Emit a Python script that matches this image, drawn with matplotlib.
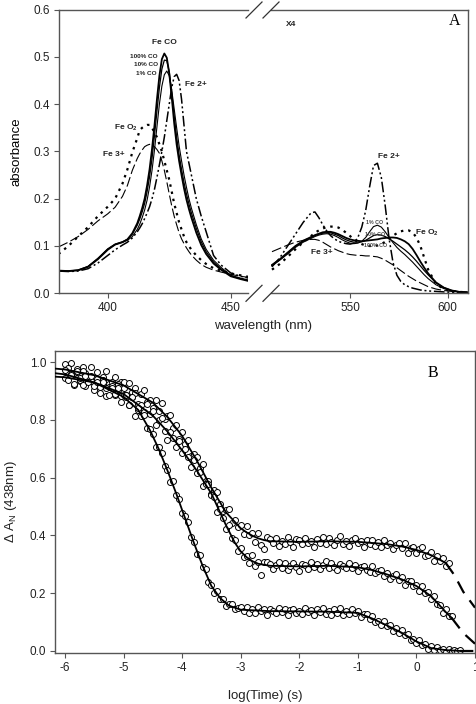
import numpy as np
import matplotlib
matplotlib.use("Agg")
import matplotlib.pyplot as plt
from matplotlib.lines import Line2D

plt.rcParams['font.family'] = ['Liberation Sans', 'DejaVu Sans']
plt.rcParams['axes.unicode_minus'] = False
plt.rcParams['mathtext.fontset'] = 'custom'
plt.rcParams['mathtext.rm'] = 'Liberation Sans'
plt.rcParams['mathtext.it'] = 'Liberation Sans:italic'
plt.rcParams['mathtext.bf'] = 'Liberation Sans:bold'

# ---------------- Panel A data: Soret region ----------------
WL_L = [380, 384, 388, 392, 396, 400, 403, 406, 408, 410, 412, 413, 414, 415, 416, 417, 418, 419,
        420, 421, 422, 423, 424, 425, 426, 427, 428, 429, 430, 431, 432, 433, 434, 436, 438, 440,
        443, 446, 450, 454, 458, 461]
CO100_L = [.048, .047, .049, .056, .072, .092, .103, .108, .114, .127, .148, .163, .180, .200, .228, .262, .305, .355,
           .410, .460, .495, .507, .498, .465, .415, .360, .315, .280, .250, .222, .198, .178, .160, .128, .102, .083,
           .063, .050, .036, .030, .025, .022]
CO10_L = [.048, .047, .049, .057, .074, .094, .104, .109, .114, .125, .144, .157, .172, .190, .215, .246, .285, .333,
          .385, .435, .474, .493, .492, .468, .425, .375, .330, .293, .262, .234, .210, .189, .170, .137, .109, .088,
          .066, .052, .037, .031, .026, .023]
CO1_L = [.048, .047, .048, .056, .073, .093, .103, .108, .112, .120, .135, .146, .160, .176, .197, .225, .260, .303,
         .352, .400, .438, .462, .470, .460, .430, .390, .350, .312, .280, .250, .224, .200, .180, .145, .115, .093,
         .070, .055, .038, .032, .027, .024]
FE2_L = [.047, .046, .047, .052, .064, .080, .092, .102, .108, .117, .130, .138, .147, .158, .170, .183, .200, .220,
         .245, .272, .300, .330, .365, .400, .435, .458, .463, .450, .410, .355, .300, .275, .250, .200, .163, .130,
         .080, .060, .043, .036, .031, .028]
FEO2_L = [.083, .100, .120, .140, .163, .183, .200, .232, .262, .298, .328, .345, .350, .354, .356, .356, .350, .340,
          .330, .315, .300, .280, .260, .240, .215, .190, .170, .150, .135, .120, .108, .100, .092, .080, .070, .062,
          .053, .048, .042, .038, .034, .032]
FE3_L = [.098, .108, .120, .135, .153, .168, .182, .205, .228, .260, .285, .295, .303, .310, .313, .315, .313, .310,
         .304, .296, .280, .260, .236, .210, .185, .163, .145, .128, .115, .105, .096, .088, .081, .070, .061, .055,
         .049, .045, .040, .036, .033, .031]

# ---------------- Panel A data: visible region (x4) ----------------
WL_R = [510, 514, 518, 522, 526, 530, 532, 534, 536, 538, 540, 542, 544, 546, 548, 550, 552, 554, 556, 558,
        560, 562, 564, 566, 568, 570, 572, 574, 576, 578, 580, 582, 584, 586, 588, 590, 594, 598, 602, 606, 610]
CO100_R = [.060, .072, .086, .100, .111, .119, .123, .126, .129, .130, .130, .128, .125, .121, .117, .114, .112, .111, .110, .111,
           .112, .113, .114, .116, .117, .118, .118, .117, .114, .110, .104, .094, .081, .067, .054, .042, .023, .012, .006, .003, .002]
CO10_R = [.059, .071, .085, .099, .110, .118, .122, .125, .127, .128, .128, .125, .122, .117, .113, .110, .108, .108, .109, .112,
          .117, .122, .124, .123, .120, .115, .110, .104, .098, .092, .085, .077, .068, .058, .048, .039, .022, .012, .006, .003, .002]
CO1_R = [.058, .070, .083, .097, .108, .116, .120, .123, .125, .126, .125, .122, .118, .113, .109, .106, .105, .106, .110, .118,
         .130, .141, .144, .140, .130, .118, .107, .097, .089, .082, .074, .066, .057, .048, .039, .031, .018, .010, .005, .003, .002]
FE2_R = [.056, .075, .100, .125, .150, .170, .172, .160, .145, .132, .122, .115, .110, .107, .105, .104, .106, .118, .140, .175,
         .225, .270, .275, .245, .185, .115, .065, .038, .025, .018, .014, .011, .009, .007, .006, .005, .004, .003, .002, .002, .002]
FEO2_R = [.050, .062, .077, .093, .108, .121, .128, .133, .137, .140, .141, .141, .139, .134, .128, .121, .114, .108, .104, .101,
          .100, .100, .101, .104, .109, .116, .122, .127, .131, .133, .133, .129, .118, .100, .075, .050, .020, .009, .005, .003, .002]
FE3_R = [.088, .095, .102, .108, .112, .114, .114, .112, .108, .103, .098, .094, .090, .087, .084, .082, .081, .080, .080, .079,
         .079, .078, .077, .074, .070, .065, .060, .054, .048, .042, .036, .031, .026, .022, .018, .014, .009, .006, .004, .003, .002]

# ---------------- Panel B data ----------------
T_STEP = 0.05
SLOW_Y = [.995, .958, .999, .964, .977, .935, .985, .964, .941, .982,
          .947, .966, .923, .949, .971, .925, .931, .948, .905, .931,
          .932, .886, .928, .896, .911, .855, .889, .903, .862, .868,
          .840, .868, .832, .860, .805, .815, .819, .772, .781, .733,
          .760, .718, .731, .676, .682, .672, .633, .647, .588, .587,
          .545, .558, .549, .509, .485, .488, .491, .443, .452, .428,
          .435, .406, .432, .400, .407, .377, .408, .367, .352, .394,
          .387, .374, .391, .364, .382, .371, .394, .377, .361, .389,
          .384, .369, .393, .373, .381, .359, .388, .375, .395, .372,
          .390, .376, .367, .385, .397, .370, .381, .365, .386, .392,
          .373, .381, .360, .385, .372, .386, .365, .377, .361, .386,
          .366, .375, .354, .368, .374, .355, .374, .339, .357, .361,
          .338, .352, .359, .330, .333, .343, .312, .329, .310, .323,
          .295, .304]
MID_Y = [.946, .980, .960, .922, .965, .939, .971, .918, .946, .935,
         .905, .941, .914, .940, .884, .915, .918, .887, .926, .884,
         .910, .878, .853, .878, .895, .835, .851, .826, .854, .820,
         .830, .784, .801, .807, .761, .732, .759, .739, .706, .728,
         .685, .699, .672, .638, .661, .617, .621, .573, .580, .577,
         .539, .533, .483, .493, .459, .423, .435, .390, .383, .345,
         .357, .327, .330, .303, .334, .295, .307, .262, .307, .307,
         .300, .284, .297, .308, .287, .303, .282, .296, .305, .290,
         .278, .301, .298, .284, .307, .292, .301, .283, .298, .310,
         .289, .305, .292, .282, .302, .296, .286, .305, .288, .299,
         .276, .292, .295, .282, .272, .295, .270, .277, .282, .259,
         .271, .250, .259, .268, .247, .256, .227, .244, .244, .224,
         .228, .207, .225, .201, .204, .181, .191, .163, .159, .133,
         .144, .121, .121]
FAST_Y = [.973, .938, .956, .923, .971, .944, .922, .953, .931, .954,
          .918, .933, .895, .930, .912, .887, .910, .889, .910, .863,
          .885, .886, .852, .878, .814, .843, .813, .818, .771, .768,
          .753, .707, .705, .687, .642, .628, .586, .587, .540, .525,
          .478, .466, .446, .396, .377, .335, .331, .291, .283, .240,
          .230, .201, .209, .180, .181, .157, .161, .164, .144, .149,
          .151, .137, .154, .131, .144, .133, .154, .137, .145, .126,
          .147, .139, .130, .149, .134, .145, .125, .143, .147, .131,
          .139, .128, .150, .134, .143, .126, .144, .135, .148, .129,
          .140, .126, .144, .130, .149, .126, .137, .127, .144, .130,
          .139, .116, .129, .129, .112, .122, .100, .104, .089, .105,
          .085, .089, .068, .081, .063, .074, .055, .058, .037, .043,
          .027, .037, .021, .024, .008, .016, .005, .015, .004, .007,
          -.002, .006, -.001, .003, .000, .003]

SLOW_FIT_T = [-6.17, -6.0, -5.5, -5.0, -4.5, -4.25, -4.0, -3.75, -3.5, -3.25, -3.1, -3.0, -2.9, -2.8, -2.7, -2.6,
              -2.5, -2.0, -1.5, -1.0, -0.5, -0.25, 0.0, 0.25, 0.5]
SLOW_FIT_V = [0.978, 0.975, 0.955, 0.92, 0.86, 0.81, 0.745, 0.66, 0.565, 0.48, 0.447, 0.425, 0.411, 0.399, 0.390, 0.384,
              0.380, 0.378, 0.380, 0.378, 0.370, 0.362, 0.350, 0.332, 0.305]
SLOW_EXT_T = [0.5, 0.65, 0.8, 1.0]
SLOW_EXT_V = [0.305, 0.262, 0.205, 0.150]

MID_FIT_T = [-6.17, -6.0, -5.5, -5.0, -4.5, -4.25, -4.0, -3.75, -3.5, -3.25, -3.1, -3.0, -2.9, -2.8, -2.7, -2.5,
             -2.0, -1.5, -1.0, -0.75, -0.5, -0.25, 0.0, 0.25, 0.5, 0.6]
MID_FIT_V = [0.962, 0.958, 0.930, 0.890, 0.815, 0.760, 0.695, 0.625, 0.545, 0.435, 0.375, 0.345, 0.325, 0.311, 0.302,
             0.295, 0.293, 0.295, 0.290, 0.280, 0.265, 0.248, 0.225, 0.190, 0.135, 0.115]
MID_EXT_T = [0.6, 0.8, 1.0]
MID_EXT_V = [0.115, 0.062, 0.025]

FAST_FIT_T = [-6.17, -6.0, -5.5, -5.0, -4.75, -4.55, -4.4, -4.25, -4.1, -3.95, -3.8, -3.65, -3.5, -3.35, -3.2, -3.0,
              -2.5, -2.0, -1.5, -1.0, -0.75, -0.5, -0.25, 0.0, 0.25, 0.5, 0.75]
FAST_FIT_V = [0.950, 0.948, 0.930, 0.880, 0.835, 0.765, 0.700, 0.625, 0.545, 0.460, 0.375, 0.295, 0.225, 0.183,
              0.157, 0.143, 0.138, 0.137, 0.136, 0.132, 0.112, 0.088, 0.063, 0.033, 0.010, 0.003, 0.000]
FAST_EXT_T = [0.75, 1.0]
FAST_EXT_V = [0.0, 0.0]

# ---------------- Figure ----------------
W, H = 477, 704
fig = plt.figure(figsize=(W / 100, H / 100), dpi=100)


def fr(x0, y0, x1, y1):
    return [x0 / W, 1 - y1 / H, (x1 - x0) / W, (y1 - y0) / H]


SPC = '#555555'
TICKFS = 8.5
LABFS = 9.5

axL = fig.add_axes(fr(59, 9.5, 248, 293.3))
axR = fig.add_axes(fr(271, 9.5, 468, 293.3))
axB = fig.add_axes(fr(55.3, 350.7, 475, 652.7))

for ax in (axL, axR, axB):
    for s in ax.spines.values():
        s.set_color(SPC)
        s.set_linewidth(1.0)
    ax.tick_params(direction='out', length=3.5, width=0.8, color=SPC, labelsize=TICKFS,
                   labelcolor='#222222', pad=3)

styles = {
    'co100': dict(color='black', lw=1.3, ls='-'),
    'co10': dict(color='black', lw=0.9, ls='-'),
    'co1': dict(color='black', lw=0.8, ls='-'),
    'fe2': dict(color='black', lw=1.1, ls=(0, (7, 1.8, 1.3, 1.8, 1.3, 1.8))),
    'feo2': dict(color='black', lw=1.6, ls=(0, (1.1, 2.2))),
    'fe3': dict(color='black', lw=0.8, ls=(0, (9, 3))),
}

left_series = [(FE3_L, 'fe3'), (FEO2_L, 'feo2'), (FE2_L, 'fe2'), (CO1_L, 'co1'), (CO10_L, 'co10'), (CO100_L, 'co100')]
right_series = [(FE3_R, 'fe3'), (FEO2_R, 'feo2'), (FE2_R, 'fe2'), (CO1_R, 'co1'), (CO10_R, 'co10'), (CO100_R, 'co100')]
for vals, key in left_series:
    axL.plot(WL_L, vals, **styles[key])
for vals, key in right_series:
    axR.plot(WL_R, vals, **styles[key])

axL.set_xlim(380.2, 457.0)
axR.set_xlim(509.5, 610.4)
for ax in (axL, axR):
    ax.set_ylim(0, 0.6)
axL.set_xticks([400, 450])
axR.set_xticks([550, 600])
axL.set_yticks([0.0, 0.1, 0.2, 0.3, 0.4, 0.5, 0.6])
axL.set_yticklabels(['0.0', '0.1', '0.2', '0.3', '0.4', '0.5', '0.6'])
axL.spines['right'].set_visible(False)
axR.spines['left'].set_visible(False)
axR.tick_params(axis='y', left=False, labelleft=False)
axL.set_ylabel('absorbance', fontsize=LABFS, labelpad=8)

# break marks
def brk(x0, y0, x1, y1):
    fig.add_artist(Line2D([x0 / W, x1 / W], [1 - y0 / H, 1 - y1 / H], color='#333333', lw=0.9))

for yc in (10.0, 293.3):
    brk(246, yc + 8, 262, yc - 8)
    brk(263, yc + 8, 279, yc - 8)

fig.text(263 / W, 1 - 326 / H, 'wavelength (nm)', fontsize=LABFS, ha='center', va='center', color='#222222')

# annotations panel A
bold = dict(fontweight='bold', color='#222222')
LBL = 6.0
fig.text(455 / W, 1 - 21 / H, 'A', fontsize=11.5, family='Liberation Serif', ha='center', va='center')
fig.text(291 / W, 1 - 25 / H, 'X4', fontsize=6.0, ha='center', va='center', **bold)
fig.text(164 / W, 1 - 43 / H, 'Fe CO', fontsize=LBL, ha='center', va='center', **bold)
fig.text(158 / W, 1 - 56 / H, '100% CO', fontsize=4.6, ha='right', va='center', **bold)
fig.text(158 / W, 1 - 64.5 / H, '10% CO', fontsize=4.6, ha='right', va='center', **bold)
fig.text(157 / W, 1 - 73.5 / H, '1% CO', fontsize=4.6, ha='right', va='center', **bold)
fig.text(196 / W, 1 - 85 / H, 'Fe 2+', fontsize=LBL, ha='center', va='center', **bold)
fig.text(126 / W, 1 - 128 / H, 'Fe O$_\\mathbf{2}$', fontsize=LBL, ha='center', va='center', **bold)
fig.text(114 / W, 1 - 155 / H, 'Fe 3+', fontsize=LBL, ha='center', va='center', **bold)
fig.text(389 / W, 1 - 157 / H, 'Fe 2+', fontsize=LBL, ha='center', va='center', **bold)
fig.text(427 / W, 1 - 233 / H, 'Fe O$_\\mathbf{2}$', fontsize=LBL, ha='center', va='center', **bold)
fig.text(322 / W, 1 - 253 / H, 'Fe 3+', fontsize=LBL, ha='center', va='center', **bold)
small = dict(fontsize=3.8, ha='center', va='center', color='#444444', fontweight='bold')
fig.text(375 / W, 1 - 222 / H, '1% CO', **small)
fig.text(375 / W, 1 - 235 / H, '10% CO', **small)
fig.text(376 / W, 1 - 246 / H, '100% CO', **small)

# ---------------- Panel B ----------------
for ys in (SLOW_Y, MID_Y, FAST_Y):
    ts = -6.0 + T_STEP * np.arange(len(ys))
    axB.plot(ts, ys, ls='none', marker='o', ms=4.3, mfc='white', mec='black', mew=0.7, zorder=2)

for t, v in ((SLOW_FIT_T, SLOW_FIT_V), (MID_FIT_T, MID_FIT_V), (FAST_FIT_T, FAST_FIT_V)):
    axB.plot(t, v, color='black', lw=1.3, zorder=3)
for t, v in ((SLOW_EXT_T, SLOW_EXT_V), (MID_EXT_T, MID_EXT_V), (FAST_EXT_T, FAST_EXT_V)):
    axB.plot(t, v, color='black', lw=1.6, ls=(0, (6, 4)), zorder=3)

axB.set_xlim(-6.165, 1.0)
axB.set_ylim(-0.006, 1.04)
axB.set_xticks([-6, -5, -4, -3, -2, -1, 0, 1])
axB.set_yticks([0.0, 0.2, 0.4, 0.6, 0.8, 1.0])
axB.set_yticklabels(['0.0', '0.2', '0.4', '0.6', '0.8', '1.0'])
axB.set_xlabel('log(Time) (s)', fontsize=LABFS, labelpad=12, color='#222222')
axB.set_ylabel('$\\Delta$ A$_\\mathrm{N}$ (438nm)', fontsize=LABFS, labelpad=8, color='#222222')
axB.text(0.9, 0.925, 'B', transform=axB.transAxes, fontsize=11.5, family='Liberation Serif',
         ha='center', va='center')

fig.savefig('out.png', dpi=100)
